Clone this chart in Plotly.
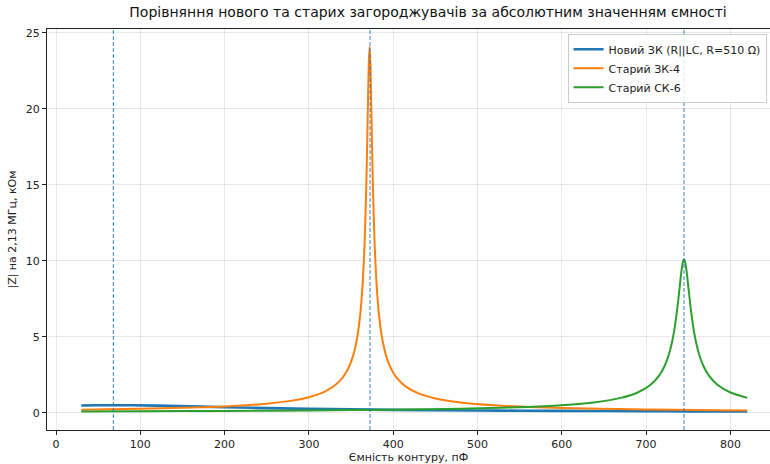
import plotly.graph_objects as go

# --- data ---
c_new = [30, 50, 68, 90, 120, 160, 200, 250, 300, 350, 400, 450, 500, 550, 600, 650, 700, 750, 800, 820]
z_new = [0.494, 0.506, 0.510, 0.504, 0.481, 0.432, 0.379, 0.320, 0.272, 0.235, 0.206, 0.183, 0.164, 0.148,
         0.135, 0.125, 0.115, 0.107, 0.100, 0.098]

c_zk4 = [30, 60, 100, 150, 200, 250, 280, 300, 320, 335, 345, 352, 357, 361, 364, 366, 368, 369, 370, 371,
         372, 373, 374, 375, 376, 378, 380, 383, 387, 392, 398, 405, 415, 430, 450, 480, 520, 570, 630, 700, 760, 820]
z_zk4 = [0.219, 0.240, 0.275, 0.337, 0.434, 0.612, 0.812, 1.037, 1.434, 2.013, 2.749, 3.692, 4.878, 6.539,
         8.711, 11.06, 14.76, 17.32, 20.25, 22.94, 24.1, 22.94, 20.25, 17.32, 14.76, 11.06, 8.71, 6.54, 4.88,
         3.69, 2.854, 2.255, 1.733, 1.287, 0.957, 0.692, 0.505, 0.377, 0.290, 0.228, 0.193, 0.167]

c_sk6 = [30, 100, 200, 300, 400, 480, 550, 600, 640, 670, 690, 705, 715, 722, 728, 733, 737, 740, 742, 744,
         745, 746, 748, 750, 753, 757, 762, 768, 775, 785, 800, 820]
z_sk6 = [0.105, 0.116, 0.137, 0.168, 0.217, 0.282, 0.383, 0.515, 0.710, 0.992, 1.346, 1.837, 2.418, 3.093,
         4.030, 5.301, 6.858, 8.368, 9.360, 10.01, 10.1, 10.01, 9.360, 8.368, 6.858, 5.301, 4.030, 3.093,
         2.418, 1.837, 1.346, 0.992]

resonances = [68, 372.5, 745]

names = ["Новий ЗК (R||LC, R=510 Ω)", "Старий ЗК-4", "Старий СК-6"]
colors = ["#1f77b4", "#ff7f0e", "#2ca02c"]

fig = go.Figure()
fig.add_trace(go.Scatter(x=c_new, y=z_new, mode="lines", name=names[0],
                         line=dict(color=colors[0], width=2.6, shape="spline")))
fig.add_trace(go.Scatter(x=c_zk4, y=z_zk4, mode="lines", name=names[1],
                         line=dict(color=colors[1], width=2, shape="spline", smoothing=0.6)))
fig.add_trace(go.Scatter(x=c_sk6, y=z_sk6, mode="lines", name=names[2],
                         line=dict(color=colors[2], width=2, shape="spline", smoothing=0.6)))

for v in resonances:
    fig.add_vline(x=v, line=dict(color="#1f77b4", width=1, dash="4px,2px"), opacity=0.9)

font = "DejaVu Sans, sans-serif"
axis_common = dict(
    showline=True, linecolor="#222", linewidth=1, mirror=True,
    ticks="outside", ticklen=4, tickcolor="#222", tickwidth=1,
    showgrid=True, gridcolor="rgba(0,0,0,0.09)", gridwidth=1,
    zeroline=False, tickfont=dict(family=font, size=11, color="#222"),
)

fig.update_layout(
    width=770, height=464,
    margin=dict(l=47, r=0, t=29, b=34, autoexpand=False),
    paper_bgcolor="white", plot_bgcolor="white",
    title=dict(text="Порівняння нового та старих загороджувачів за абсолютним значенням ємності",
               xref="paper", x=0.527, xanchor="center", y=0.985, yanchor="top",
               font=dict(family=font, size=14, color="#111")),
    xaxis=dict(range=[-10.7, 847], tickvals=[0, 100, 200, 300, 400, 500, 600, 700, 800],
               title=dict(text="Ємність контуру, пФ", font=dict(family=font, size=11, color="#222"), standoff=4),
               **axis_common),
    yaxis=dict(range=[-1.12, 25.26], tickvals=[0, 5, 10, 15, 20, 25],
               title=dict(text="|Z| на 2,13 МГц, кОм", font=dict(family=font, size=11, color="#222"), standoff=6),
               **axis_common),
    legend=dict(x=0.72, xanchor="left", y=0.988, yanchor="top",
                bgcolor="rgba(255,255,255,0.85)", bordercolor="#ccc", borderwidth=1,
                font=dict(family=font, size=11, color="#222"), tracegroupgap=0, itemwidth=30),
    showlegend=True,
)

fig.write_html("out.html")
